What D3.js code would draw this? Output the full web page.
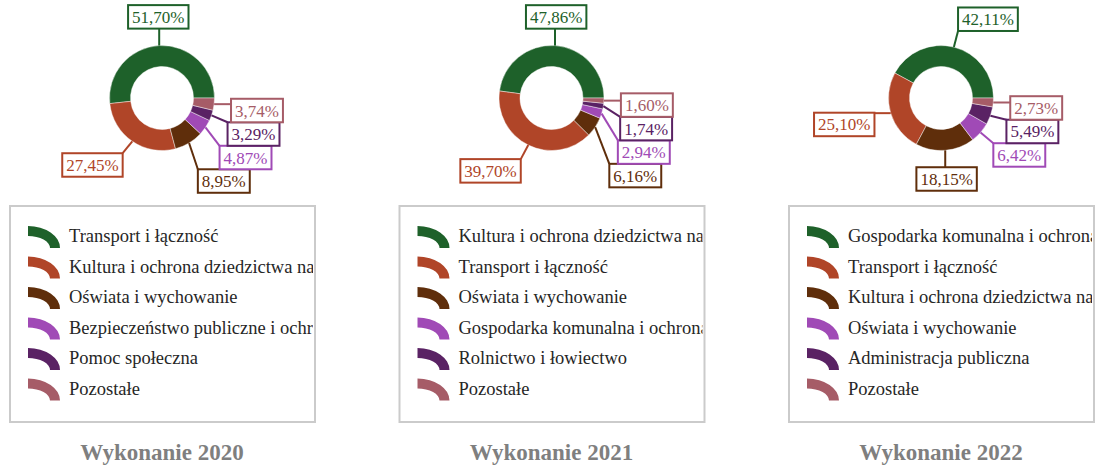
<!DOCTYPE html>
<html>
<head>
<meta charset="utf-8">
<script src="https://cdn.jsdelivr.net/npm/d3@7"></script>
<style>
  html, body { margin: 0; padding: 0; background: #fff; }
  svg { display: block; font-family: "Liberation Serif", "Times New Roman", serif; }
</style>
</head>
<body>
<script>
// Structure of executed spending (share of total, %) for three years.
const titles = ["Wykonanie 2020", "Wykonanie 2021", "Wykonanie 2022"];

const categories2020 = [
  "Transport i łączność",
  "Kultura i ochrona dziedzictwa narodowego",
  "Oświata i wychowanie",
  "Bezpieczeństwo publiczne i ochrona przeciwpożarowa",
  "Pomoc społeczna",
  "Pozostałe"
];
const values2020 = [51.70, 27.45, 8.95, 4.87, 3.29, 3.74];

const categories2021 = [
  "Kultura i ochrona dziedzictwa narodowego",
  "Transport i łączność",
  "Oświata i wychowanie",
  "Gospodarka komunalna i ochrona środowiska",
  "Rolnictwo i łowiectwo",
  "Pozostałe"
];
const values2021 = [47.86, 39.70, 6.16, 2.94, 1.74, 1.60];

const categories2022 = [
  "Gospodarka komunalna i ochrona środowiska",
  "Transport i łączność",
  "Kultura i ochrona dziedzictwa narodowego",
  "Oświata i wychowanie",
  "Administracja publiczna",
  "Pozostałe"
];
const values2022 = [42.11, 25.10, 18.15, 6.42, 5.49, 2.73];

const sliceColors = ["#1e612a", "#b04528", "#5f2e0b", "#a04ab6", "#5a2264", "#a65c67"];

const panels = [
  { title: titles[0], categories: categories2020, values: values2020 },
  { title: titles[1], categories: categories2021, values: values2021 },
  { title: titles[2], categories: categories2022, values: values2022 }
];

// ---- layout ----
const W = 1097, H = 467;
const firstCenterX = 162, panelStep = 389.5, donutCY = 98;
const outerR = 52.5, innerR = 31.5, labelGap = 17;
const legendW = 305, legendTop = 206, legendH = 216;
const rowTop = 226, rowStep = 30.5;

const fmt = v => d3.format(".2f")(v).replace(".", ",") + "%";

const svg = d3.select("body").append("svg")
  .attr("width", W).attr("height", H);

const pie = d3.pie().sort(null)
  .startAngle(Math.PI / 2)
  .endAngle(Math.PI / 2 - 2 * Math.PI);
const arc = d3.arc().innerRadius(innerR).outerRadius(outerR);

const clamp = (v, a, b) => Math.max(a, Math.min(b, v));

panels.forEach((p, i) => {
  const cx = firstCenterX + panelStep * i;
  const g = svg.append("g").attr("transform", `translate(${cx},${donutCY})`);
  const arcs = pie(p.values);

  // donut slices
  g.selectAll("path.slice").data(arcs).join("path")
    .attr("class", "slice")
    .attr("d", arc)
    .attr("fill", (d, j) => sliceColors[j])
    .attr("stroke", "rgba(255,255,255,0.55)")
    .attr("stroke-width", 0.8);

  // value labels: measure text, then place box outside each slice
  const lineLayer = g.append("g");
  const boxLayer = g.append("g");
  const labels = arcs.map((d, j) => {
    const a = (d.startAngle + d.endAngle) / 2;
    const dx = Math.sin(a), dy = -Math.cos(a);
    const grp = boxLayer.append("g");
    const t = grp.append("text")
      .attr("font-size", 17)
      .attr("fill", sliceColors[j])
      .attr("text-anchor", "middle")
      .text(fmt(d.data));
    const tw = t.node().getComputedTextLength();
    const bw = tw + 8, bh = 23.5;
    const lx = dx * (outerR + labelGap), ly = dy * (outerR + labelGap);
    const hAlign = Math.sign(dx) * clamp((Math.abs(dx) - 0.1) * 8, 0, 1);
    return {
      j, dx, dy, grp, t, bw, bh,
      ax: dx * outerR, ay: dy * outerR,
      bx: lx + hAlign * bw / 2,
      by: ly + dy * bh / 2 + (Math.abs(dx) > 0.9 ? 3 : 0),
      side: dx >= 0 ? 1 : -1
    };
  });

  // resolve vertical overlaps on each side
  [1, -1].forEach(side => {
    const grp = labels.filter(l => l.side === side).sort((a, b) => a.by - b.by);
    for (let k = 1; k < grp.length; k++) {
      const prev = grp[k - 1], cur = grp[k];
      const minY = prev.by + prev.bh / 2 + cur.bh / 2;
      if (cur.by < minY) cur.by = minY;
    }
  });

  labels.forEach(l => {
    const x0 = l.bx - l.bw / 2, x1 = l.bx + l.bw / 2;
    const y0 = l.by - l.bh / 2, y1 = l.by + l.bh / 2;
    lineLayer.append("line")
      .attr("x1", l.ax).attr("y1", l.ay)
      .attr("x2", clamp(l.ax, x0, x1)).attr("y2", clamp(l.ay, y0, y1))
      .attr("stroke", sliceColors[l.j])
      .attr("stroke-width", 2);
    l.grp.insert("rect", "text")
      .attr("x", x0).attr("y", y0)
      .attr("width", l.bw).attr("height", l.bh)
      .attr("fill", "#fff")
      .attr("stroke", sliceColors[l.j])
      .attr("stroke-width", 2);
    l.t.attr("x", l.bx).attr("y", l.by + 6);
  });

  // legend box
  const lx0 = cx - 152;
  const clipId = "legclip" + i;
  svg.append("clipPath").attr("id", clipId)
    .append("rect")
    .attr("x", lx0 + 1).attr("y", legendTop + 1)
    .attr("width", legendW - 3).attr("height", legendH - 2);
  svg.append("rect")
    .attr("x", lx0).attr("y", legendTop)
    .attr("width", legendW).attr("height", legendH)
    .attr("fill", "none")
    .attr("stroke", "#cbcbcb")
    .attr("stroke-width", 2);

  const leg = svg.append("g").attr("clip-path", `url(#${clipId})`);
  const rows = leg.selectAll("g.row").data(p.categories).join("g")
    .attr("class", "row")
    .attr("transform", (d, j) => `translate(${lx0},${rowTop + rowStep * j})`);

  // quarter-ring glyph
  const ox = 18, oy = 22, rxO = 32, ryO = 22, rxI = 22, ryI = 12;
  rows.append("path")
    .attr("d", `M${ox},${oy - ryO} A${rxO},${ryO} 0 0 1 ${ox + rxO},${oy} L${ox + rxI},${oy} A${rxI},${ryI} 0 0 0 ${ox},${oy - ryI} Z`)
    .attr("fill", (d, j) => sliceColors[j]);

  rows.append("text")
    .attr("x", 59).attr("y", 16)
    .attr("font-size", 18.5)
    .attr("fill", "#262626")
    .text(d => d);

  // panel title
  svg.append("text")
    .attr("x", cx).attr("y", 460)
    .attr("text-anchor", "middle")
    .attr("font-size", 23)
    .attr("font-weight", "bold")
    .attr("fill", "#7f7f7f")
    .text(p.title);
});
</script>
</body>
</html>
